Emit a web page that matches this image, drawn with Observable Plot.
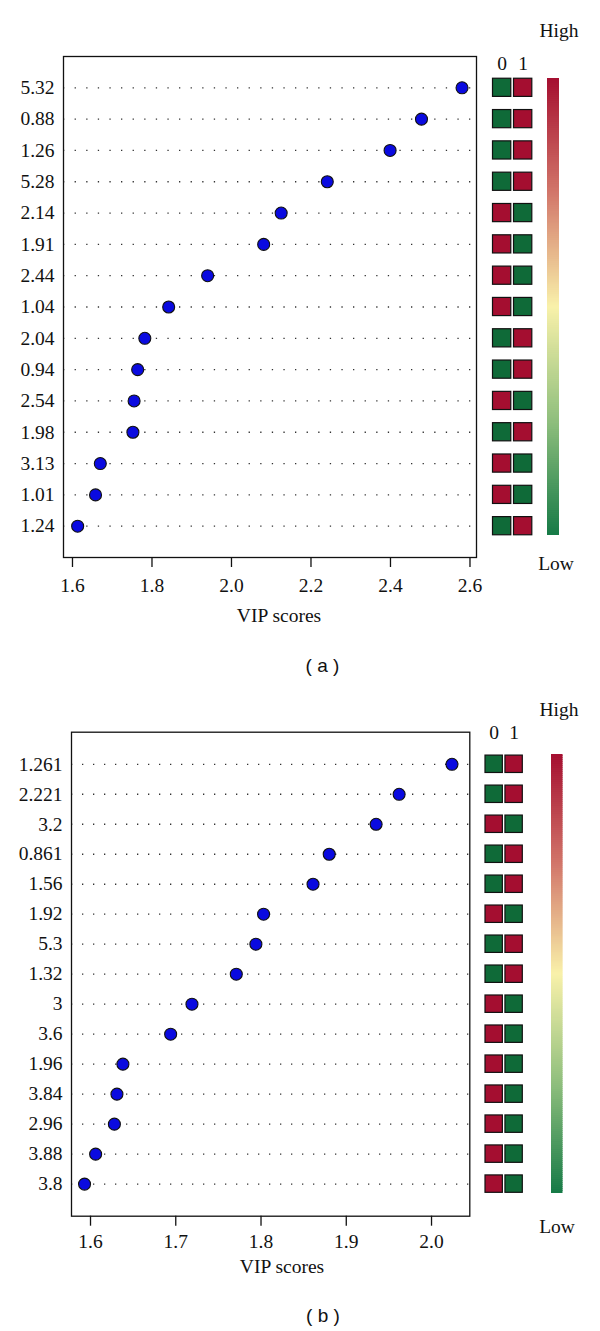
<!DOCTYPE html>
<html><head><meta charset="utf-8">
<script src="https://cdn.jsdelivr.net/npm/d3@7"></script>
<script src="https://cdn.jsdelivr.net/npm/@observablehq/plot@0.6"></script>
<style>
body{margin:0;background:#fff;}
#root{position:relative;width:600px;height:1331px;font-family:"Liberation Serif",serif;color:#111;}
#root > svg{position:absolute;}
.lbl{position:absolute;transform:translate(-50%,-50%);font-size:19.5px;white-space:nowrap;line-height:1;}
.cap{font-family:"Liberation Sans",Arial,sans-serif;font-size:19px;}
</style></head><body><div id="root"></div>
<script>
// ---------- Data: panel (a) ----------
const labelsA = ["5.32","0.88","1.26","5.28","2.14","1.91","2.44","1.04","2.04","0.94","2.54","1.98","3.13","1.01","1.24"];
const vipA    = [2.580, 2.478, 2.399, 2.241, 2.125, 2.081, 1.940, 1.842, 1.782, 1.764, 1.755, 1.752, 1.670, 1.658, 1.613];
// 1 = class "1" high (green|red), 0 = class "0" high (red|green)
const highIn1A = [1,1,1,1,0,0,0,0,1,1,0,1,0,0,1];
const ticksA = [1.6, 1.8, 2.0, 2.2, 2.4, 2.6];

// ---------- Data: panel (b) ----------
const labelsB = ["1.261","2.221","3.2","0.861","1.56","1.92","5.3","1.32","3","3.6","1.96","3.84","2.96","3.88","3.8"];
const vipB    = [2.024, 1.962, 1.935, 1.880, 1.861, 1.803, 1.794, 1.771, 1.719, 1.694, 1.638, 1.631, 1.628, 1.606, 1.593];
const highIn1B = [1,1,0,1,1,0,1,1,0,0,0,0,0,0,0];
const ticksB = [1.6, 1.7, 1.8, 1.9, 2.0];

const classes = ["0","1"];
const legendHigh = "High", legendLow = "Low", xTitle = "VIP scores";

const GREEN = "#0f6a38", RED = "#a40e30";
const barStops = ["#167a47", "#8fbf7d", "#f9f1aa", "#d2766a", "#a50f30"];

const root = document.getElementById("root");
const FONT = "'Liberation Serif', serif";
const FS = 19.5;

function place(el, left, top) { el.style.left = left + "px"; el.style.top = top + "px"; root.appendChild(el); }
function label(text, x, y, cls) {
  const d = document.createElement("div");
  d.className = "lbl" + (cls ? " " + cls : "");
  d.textContent = text; d.style.left = x + "px"; d.style.top = y + "px";
  root.appendChild(d);
}

function dotPlot(o) {
  const data = o.labels.map((l, i) => ({label: l, vip: o.vip[i]}));
  return Plot.plot({
    width: 500, height: o.height,
    marginTop: o.mt, marginBottom: o.mb, marginLeft: o.ml, marginRight: o.mr,
    style: {fontFamily: FONT, fontSize: FS + "px", color: "#111", background: "transparent", overflow: "visible"},
    x: {domain: o.domain},
    y: {type: "point", domain: o.labels, padding: o.pad, round: false},
    marks: [
      Plot.ruleY(o.labels, {y: d => d, stroke: "#333", strokeWidth: 1.3, strokeDasharray: o.dash}),
      Plot.frame({stroke: "#111", strokeWidth: 1.3}),
      Plot.axisX({ticks: o.ticks, tickFormat: d3.format(".1f"), tickSize: 10, tickPadding: o.tp, label: null, strokeWidth: 1.3, fontSize: FS}),
      Plot.axisY({tickSize: 0, tickPadding: 9, label: null, fontSize: FS}),
      Plot.dot(data, {x: "vip", y: "label", r: 6, fill: "#0a0ae0", stroke: "#111", strokeWidth: 1.1})
    ]
  });
}

function heatPlot(o) {
  const cells = [];
  o.labels.forEach((l, i) => {
    cells.push({label: l, col: "0", v: 1 - o.high1[i]});
    cells.push({label: l, col: "1", v: o.high1[i]});
  });
  const pi = 0.42;
  return Plot.plot({
    width: o.width, height: o.height,
    marginTop: o.mt, marginBottom: o.mb, marginLeft: o.ml, marginRight: o.mr,
    style: {fontFamily: FONT, fontSize: FS + "px", color: "#111", background: "transparent", overflow: "visible"},
    x: {type: "band", domain: classes, paddingInner: 0.13, paddingOuter: 0, axis: null, round: false},
    y: {type: "band", domain: o.labels, paddingInner: pi, paddingOuter: (2 * o.pad - 1 + pi) / 2, axis: null, round: false},
    color: {type: "ordinal", domain: [0, 1], range: [GREEN, RED]},
    marks: [
      Plot.cell(cells, {x: "col", y: "label", fill: "v", stroke: "#111", strokeWidth: 1.2}),
      Plot.text(classes, {x: d => d, frameAnchor: "top", dy: o.headDy, fontSize: FS, fill: "#111"})
    ]
  });
}

function colorBar(w, h) {
  const N = 220;
  return Plot.plot({
    width: w, height: h, margin: 0,
    style: {background: "transparent"},
    x: {domain: [0, 1], axis: null},
    y: {domain: [0, 1], axis: null},
    color: {type: "linear", domain: [0, 1], interpolate: d3.piecewise(d3.interpolateRgb, barStops)},
    marks: [
      Plot.rect(d3.range(N), {x1: 0, x2: 1, y1: i => i / N, y2: i => (i + 1.6) / N, fill: i => (i + 0.5) / N})
    ]
  });
}

// ---------- Panel (a) ----------
place(dotPlot({labels: labelsA, vip: vipA, ticks: ticksA, height: 640, mt: 56, mb: 83, ml: 63, mr: 24,
  domain: [1.5774, 2.6164], pad: 1, tp: 11, dash: "1.3,10.3"}), 0, 0);
place(heatPlot({labels: labelsA, high1: highIn1A, width: 64, height: 640, mt: 56, mb: 83, ml: 12.5, mr: 12.2, pad: 1, headDy: 0}), 480, 0);
place(colorBar(12, 457), 547, 78);
label(legendHigh, 559, 31);
label(legendLow, 556, 564);
label(xTitle, 279, 616);
label("( a )", 322.5, 665, "cap");

// ---------- Panel (b) ----------
place(dotPlot({labels: labelsB, vip: vipB, ticks: ticksB, height: 640, mt: 71.7, mb: 84.3, ml: 71, mr: 30.7,
  domain: [1.5777, 2.0449], pad: 1.07, tp: 8, dash: "1.3,9.7"}), 0, 660);
place(heatPlot({labels: labelsB, high1: highIn1B, width: 64, height: 640, mt: 71.7, mb: 84.3, ml: 5, mr: 21.7, pad: 1.07, headDy: -7}), 480, 660);
place(colorBar(11.5, 439), 551, 754);
label(legendHigh, 559, 710);
label(legendLow, 557, 1227);
label(xTitle, 282, 1267);
label("( b )", 323, 1315, "cap");
</script>
</body></html>
